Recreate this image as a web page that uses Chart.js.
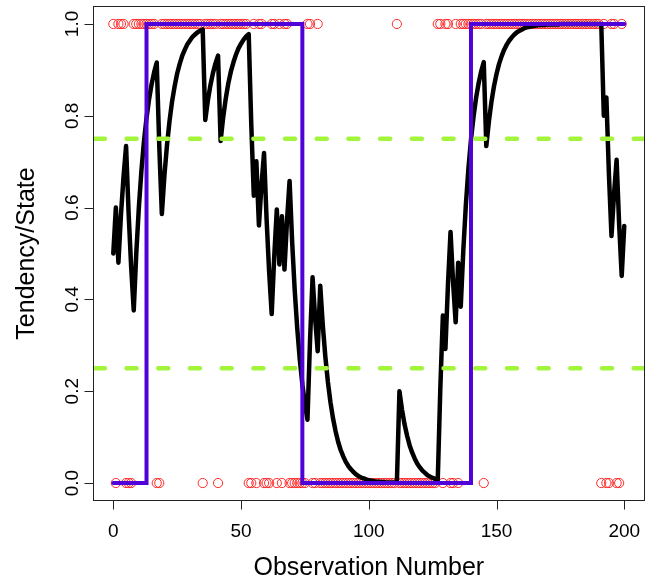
<!DOCTYPE html>
<html>
<head>
<meta charset="utf-8">
<script src="https://cdn.jsdelivr.net/npm/chart.js@4.4.1/dist/chart.umd.min.js"></script>
<style>
  html, body { margin: 0; padding: 0; background: #ffffff; }
  #wrap { width: 651px; height: 578px; }
</style>
</head>
<body>
<div id="wrap"><canvas id="c" width="651" height="578"></canvas></div>
<script>
// ---- data ----
// observations (0/1), plotted at x = 0..199
const observations = [
  1,0,1,1,1,0,0,0,1,1,1,1,1,1,1,1,1,0,0,1,
  1,1,1,1,1,1,1,1,1,1,1,1,1,1,1,0,1,1,1,1,
  1,0,1,1,1,1,1,1,1,1,1,1,1,0,0,1,0,1,1,0,
  0,0,1,1,0,1,0,1,1,0,0,0,0,0,0,0,1,1,0,0,
  1,0,0,0,0,0,0,0,0,0,0,0,0,0,0,0,0,0,0,0,
  0,0,0,0,0,0,0,0,0,0,0,1,0,0,0,0,0,0,0,0,
  0,0,0,0,0,0,0,1,1,0,1,1,0,0,1,0,1,1,1,1,
  1,1,1,1,1,0,1,1,1,1,1,1,1,1,1,1,1,1,1,1,
  1,1,1,1,1,1,1,1,1,1,1,1,1,1,1,1,1,1,1,1,
  1,1,1,1,1,1,1,1,1,1,1,0,1,0,0,1,1,0,0,1
];
// tendency, plotted at x = 0..200
const tendency = [
  0.500,
  0.600,0.480,0.584,0.667,0.734,0.587,0.470,0.376,0.501,0.600,
  0.680,0.744,0.795,0.836,0.869,0.895,0.916,0.733,0.586,0.669,
  0.735,0.788,0.831,0.864,0.892,0.913,0.931,0.944,0.956,0.964,
  0.972,0.977,0.982,0.985,0.988,0.791,0.833,0.866,0.893,0.914,
  0.931,0.745,0.796,0.837,0.870,0.896,0.916,0.933,0.947,0.957,
  0.966,0.973,0.978,0.782,0.626,0.701,0.561,0.649,0.719,0.575,
  0.460,0.368,0.494,0.596,0.476,0.581,0.465,0.572,0.658,0.526,
  0.421,0.337,0.269,0.215,0.172,0.138,0.310,0.448,0.359,0.287,
  0.430,0.344,0.275,0.220,0.176,0.141,0.113,0.090,0.072,0.058,
  0.046,0.037,0.030,0.024,0.019,0.015,0.012,0.010,0.008,0.006,
  0.005,0.004,0.003,0.003,0.002,0.002,0.001,0.001,0.001,0.001,
  0.001,0.200,0.160,0.128,0.103,0.082,0.066,0.053,0.042,0.034,
  0.027,0.022,0.017,0.014,0.011,0.009,0.007,0.206,0.365,0.292,
  0.433,0.547,0.437,0.350,0.480,0.384,0.507,0.606,0.685,0.748,
  0.798,0.839,0.871,0.897,0.917,0.734,0.787,0.830,0.864,0.891,
  0.913,0.930,0.944,0.955,0.964,0.971,0.977,0.982,0.985,0.988,
  0.991,0.993,0.994,0.995,0.996,0.997,0.998,0.998,0.998,0.999,
  0.999,0.999,0.999,0.999,1.000,1.000,1.000,1.000,1.000,1.000,
  1.000,1.000,1.000,1.000,1.000,1.000,1.000,1.000,1.000,1.000,
  1.000,0.800,0.840,0.672,0.538,0.630,0.704,0.563,0.451,0.560
];
// state (0/1), plotted as a step at x = 0..200
const stateValues = [
  0,0,0,0,0,0,0,0,0,0,0,0,0,1,1,1,1,1,1,1,
  1,1,1,1,1,1,1,1,1,1,1,1,1,1,1,1,1,1,1,1,
  1,1,1,1,1,1,1,1,1,1,1,1,1,1,1,1,1,1,1,1,
  1,1,1,1,1,1,1,1,1,1,1,1,1,1,0,0,0,0,0,0,
  0,0,0,0,0,0,0,0,0,0,0,0,0,0,0,0,0,0,0,0,
  0,0,0,0,0,0,0,0,0,0,0,0,0,0,0,0,0,0,0,0,
  0,0,0,0,0,0,0,0,0,0,0,0,0,0,0,0,0,0,0,0,
  1,1,1,1,1,1,1,1,1,1,1,1,1,1,1,1,1,1,1,1,
  1,1,1,1,1,1,1,1,1,1,1,1,1,1,1,1,1,1,1,1,
  1,1,1,1,1,1,1,1,1,1,1,1,1,1,1,1,1,1,1,1,
  1
];
const thresholds = [0.25, 0.75];
const xTickLabels = [0, 50, 100, 150, 200];
const yTickLabels = [0.0, 0.2, 0.4, 0.6, 0.8, 1.0];
const xTitle = 'Observation Number';
const yTitle = 'Tendency/State';

// ---- build datasets ----
const obsPoints = observations.map((v, i) => ({ x: i, y: v }));
const tendPoints = tendency.map((v, i) => ({ x: i, y: v }));
const statePoints = stateValues.map((v, i) => ({ x: i, y: v }));

const FONT = '"Liberation Sans", Arial, Helvetica, sans-serif';

const rPlot = {
  id: 'rPlot',
  afterDatasetsDraw(chart) {
    const { ctx, chartArea: a, scales: { y } } = chart;
    ctx.save();
    ctx.beginPath();
    ctx.rect(a.left, a.top, a.right - a.left, a.bottom - a.top);
    ctx.clip();
    ctx.strokeStyle = '#a2f53a';
    ctx.lineWidth = 4.5;
    ctx.lineCap = 'round';
    ctx.setLineDash([10, 21.7]);
    ctx.lineDashOffset = -2;
    thresholds.forEach(t => {
      const py = y.getPixelForValue(t);
      ctx.beginPath();
      ctx.moveTo(a.left, py);
      ctx.lineTo(a.right, py);
      ctx.stroke();
    });
    ctx.restore();
  },
  afterDraw(chart) {
    const { ctx, chartArea: a, scales: { x, y } } = chart;
    ctx.save();
    ctx.strokeStyle = '#222';
    ctx.lineWidth = 1;
    const L = Math.round(a.left) + 0.5, R = Math.round(a.right) - 0.5;
    const T = Math.round(a.top) + 0.5, B = Math.round(a.bottom) - 0.5;
    ctx.strokeRect(L, T, R - L, B - T);
    // x axis
    ctx.beginPath();
    ctx.moveTo(x.getPixelForValue(xTickLabels[0]), B);
    ctx.lineTo(x.getPixelForValue(xTickLabels[xTickLabels.length - 1]), B);
    xTickLabels.forEach(v => {
      const px = Math.round(x.getPixelForValue(v)) + 0.5;
      ctx.moveTo(px, B);
      ctx.lineTo(px, B + 9);
    });
    // y axis
    ctx.moveTo(L, y.getPixelForValue(yTickLabels[0]));
    ctx.lineTo(L, y.getPixelForValue(yTickLabels[yTickLabels.length - 1]));
    yTickLabels.forEach(v => {
      const py = Math.round(y.getPixelForValue(v)) + 0.5;
      ctx.moveTo(L, py);
      ctx.lineTo(L - 9, py);
    });
    ctx.stroke();

    ctx.fillStyle = '#000';
    ctx.font = '19px ' + FONT;
    ctx.textAlign = 'center';
    ctx.textBaseline = 'alphabetic';
    xTickLabels.forEach(v => {
      ctx.fillText(String(v), x.getPixelForValue(v), 537);
    });
    yTickLabels.forEach(v => {
      ctx.save();
      ctx.translate(78, y.getPixelForValue(v));
      ctx.rotate(-Math.PI / 2);
      ctx.fillText(v.toFixed(1), 0, 0);
      ctx.restore();
    });
    ctx.font = '25px ' + FONT;
    ctx.fillText(xTitle, (a.left + a.right) / 2, 575);
    ctx.save();
    ctx.translate(34, (a.top + a.bottom) / 2);
    ctx.rotate(-Math.PI / 2);
    ctx.fillText(yTitle, 0, 0);
    ctx.restore();
    ctx.restore();
  }
};

new Chart(document.getElementById('c'), {
  type: 'scatter',
  data: {
    datasets: [
      {
        label: 'State',
        data: statePoints,
        showLine: true,
        stepped: true,
        borderColor: '#5000d8',
        borderWidth: 4,
        borderCapStyle: 'round',
        borderJoinStyle: 'miter',
        pointRadius: 0,
        order: 1
      },
      {
        label: 'Tendency',
        data: tendPoints,
        showLine: true,
        borderColor: '#000000',
        borderWidth: 4.5,
        borderCapStyle: 'round',
        borderJoinStyle: 'round',
        pointRadius: 0,
        tension: 0,
        order: 2
      },
      {
        label: 'Observations',
        data: obsPoints,
        showLine: false,
        pointStyle: 'circle',
        pointRadius: 4.6,
        pointBorderWidth: 1,
        pointBorderColor: '#ff2a2a',
        pointBackgroundColor: 'rgba(0,0,0,0)',
        order: 3
      }
    ]
  },
  options: {
    responsive: false,
    animation: false,
    devicePixelRatio: 1,
    layout: { padding: { left: 0, right: 6.3, top: 5.6, bottom: 0 } },
    plugins: { legend: { display: false }, tooltip: { enabled: false } },
    scales: {
      x: {
        type: 'linear', min: -8, max: 208,
        grid: { display: false, drawTicks: false },
        border: { display: false },
        ticks: { display: false },
        afterFit: s => { s.height = 76.6; }
      },
      y: {
        type: 'linear', min: -0.04, max: 1.04,
        grid: { display: false, drawTicks: false },
        border: { display: false },
        ticks: { display: false },
        afterFit: s => { s.width = 92.86; }
      }
    }
  },
  plugins: [rPlot]
});
</script>
</body>
</html>
